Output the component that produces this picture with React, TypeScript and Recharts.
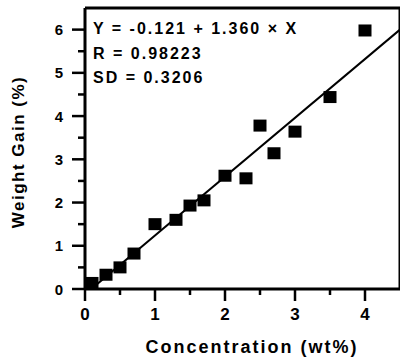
import React from 'react';
import { ScatterChart, Scatter, XAxis, YAxis, ReferenceLine, Customized } from 'recharts';

const concentration = [0.1, 0.3, 0.5, 0.7, 1.0, 1.3, 1.5, 1.7, 2.0, 2.3, 2.5, 2.7, 3.0, 3.5, 4.0];
const weightGain = [0.14, 0.33, 0.5, 0.82, 1.5, 1.6, 1.93, 2.05, 2.62, 2.56, 3.78, 3.14, 3.64, 4.44, 5.98];
const fitX = [0.09, 4.5];
const fitY = [0, 6.0];
const xTicks = [0, 0.5, 1, 1.5, 2, 2.5, 3, 3.5, 4];
const yTicks = [0, 0.5, 1, 1.5, 2, 2.5, 3, 3.5, 4, 4.5, 5, 5.5, 6];
const annotations = ['Y = -0.121 + 1.360 × X', 'R = 0.98223', 'SD = 0.3206'];
const xTitle = 'Concentration (wt%)';
const yTitle = 'Weight Gain (%)';

const points = concentration.map((x, i) => ({ x, y: weightGain[i] }));
const fit = fitX.map((x, i) => ({ x, y: fitY[i] }));

const FONT = '"Liberation Sans", Arial, sans-serif';

const Square = (props: any) => {
  const { cx, cy } = props;
  if (cx == null || cy == null) return <g />;
  return <rect x={cx - 6.5} y={cy - 6} width={13} height={12} fill="#000" />;
};

const NoShape = () => <g />;

const YTick = (props: any) => {
  const { x, y, payload } = props;
  const v = payload.value;
  const major = Number.isInteger(v);
  return (
    <g>
      <line x1={x - (major ? 13 : 7)} x2={x} y1={y} y2={y} stroke="#000" strokeWidth={2.5} />
      {major && (
        <text x={x - 22} y={y} dy={5.5} textAnchor="end" fontFamily={FONT} fontWeight="bold" fontSize={15} fill="#000">
          {v}
        </text>
      )}
    </g>
  );
};

const XTick = (props: any) => {
  const { x, y, payload } = props;
  const v = payload.value;
  const major = Number.isInteger(v);
  return (
    <g>
      <line x1={x} x2={x} y1={y} y2={y + (major ? 12 : 6)} stroke="#000" strokeWidth={2.5} />
      {major && (
        <text x={x} y={y + 31} textAnchor="middle" fontFamily={FONT} fontWeight="bold" fontSize={17} fill="#000">
          {v}
        </text>
      )}
    </g>
  );
};

const Texts = () => (
  <g>
    {annotations.map((t, i) => (
      <text key={i} x={93} y={34 + i * 24.5} fontFamily={FONT} fontWeight="bold" fontSize={16} letterSpacing={2} fill="#000">
        {t}
      </text>
    ))}
    <text x={252} y={353} textAnchor="middle" fontFamily={FONT} fontWeight="bold" fontSize={18} letterSpacing={2} fill="#000">
      {xTitle}
    </text>
    <text
      x={24}
      y={152}
      transform="rotate(-90 24 152)"
      textAnchor="middle"
      fontFamily={FONT}
      fontWeight="bold"
      fontSize={17}
      letterSpacing={1.5}
      fill="#000"
    >
      {yTitle}
    </text>
  </g>
);

export default function App() {
  return (
    <div style={{ position: 'absolute', left: 0, top: 0, background: '#fff' }}>
      <ScatterChart width={400} height={361} margin={{ top: 8, right: 0, bottom: 0, left: 0 }}>
        <XAxis
          type="number"
          dataKey="x"
          domain={[0, 4.5]}
          ticks={xTicks}
          height={72}
          tickSize={0}
          tickMargin={0}
          tickLine={false}
          axisLine={{ stroke: '#000', strokeWidth: 3 }}
          tick={<XTick />}
          interval={0}
          allowDataOverflow
        />
        <YAxis
          type="number"
          dataKey="y"
          domain={[0, 6.5]}
          ticks={yTicks}
          width={85}
          tickSize={0}
          tickMargin={0}
          tickLine={false}
          axisLine={{ stroke: '#000', strokeWidth: 3 }}
          tick={<YTick />}
          interval={0}
          allowDataOverflow
        />
        <ReferenceLine y={6.5} stroke="#000" strokeWidth={3} ifOverflow="visible" />
        <ReferenceLine x={4.5} stroke="#000" strokeWidth={3} ifOverflow="visible" />
        <Scatter data={fit} line={{ stroke: '#000', strokeWidth: 2 }} shape={NoShape} isAnimationActive={false} />
        <Scatter data={points} shape={Square} fill="#000" isAnimationActive={false} />
        <Customized component={Texts} />
      </ScatterChart>
    </div>
  );
}
